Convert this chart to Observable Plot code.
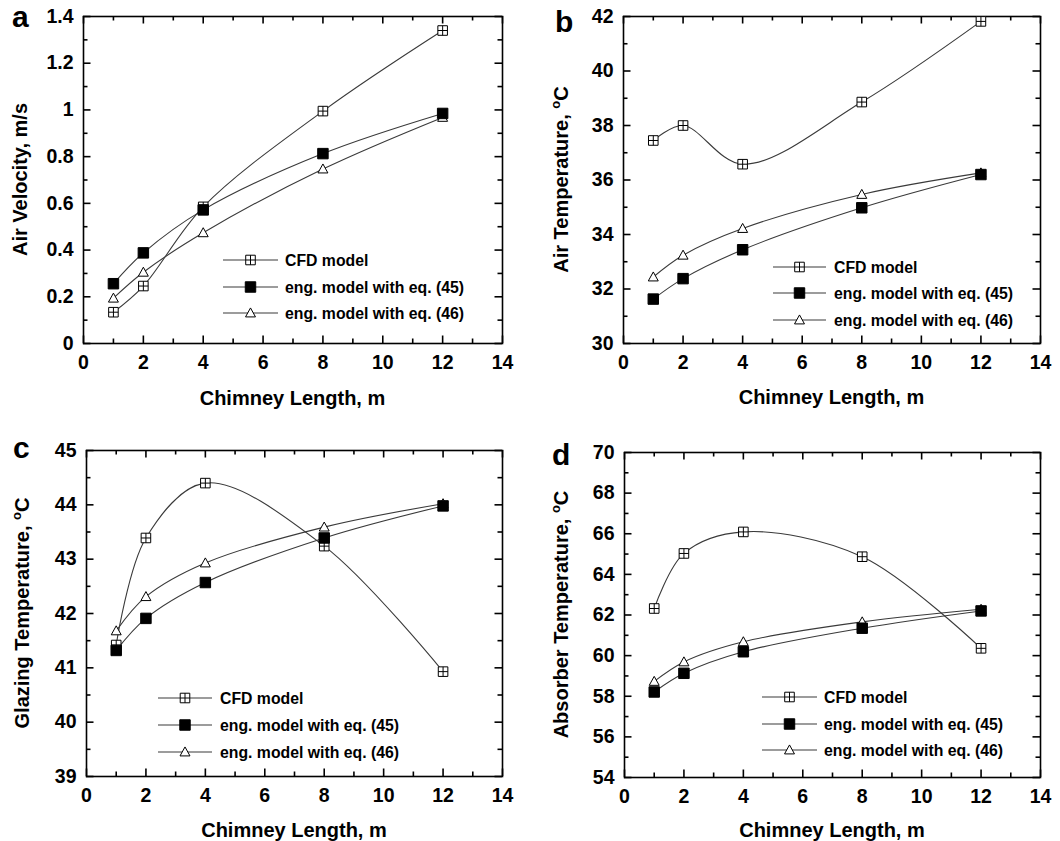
<!DOCTYPE html>
<html>
<head>
<meta charset="utf-8">
<script src="https://cdn.jsdelivr.net/npm/d3@7"></script>
<script src="https://cdn.jsdelivr.net/npm/@observablehq/plot@0.6"></script>
<style>
  html, body { margin: 0; padding: 0; background: #fff; }
  #root { position: relative; width: 1060px; height: 841px; overflow: hidden; font-family: "Liberation Sans", Arial, sans-serif; }
  .panel { position: absolute; }
</style>
</head>
<body>
<div id="root"></div>
<script>
// ---------------- data ----------------
const chimneyLength = [1, 2, 4, 8, 12];
const seriesNames = ["CFD model", "eng. model with eq. (45)", "eng. model with eq. (46)"];

// (a) Air velocity, m/s
const velocityCFD  = [0.134, 0.246, 0.585, 0.995, 1.34];
const velocityEq45 = [0.256, 0.388, 0.572, 0.813, 0.985];
const velocityEq46 = [0.194, 0.305, 0.474, 0.747, 0.968];

// (b) Air temperature, oC
const airTempCFD  = [37.45, 38.0, 36.58, 38.86, 41.82];
const airTempEq45 = [31.63, 32.38, 33.44, 34.98, 36.2];
const airTempEq46 = [32.44, 33.24, 34.22, 35.47, 36.26];

// (c) Glazing temperature, oC
const glazTempCFD  = [41.42, 43.39, 44.4, 43.24, 40.93];
const glazTempEq45 = [41.32, 41.91, 42.57, 43.39, 43.98];
const glazTempEq46 = [41.68, 42.31, 42.93, 43.59, 44.02];

// (d) Absorber temperature, oC
const absTempCFD  = [62.32, 65.03, 66.09, 64.87, 60.36];
const absTempEq45 = [58.21, 59.13, 60.19, 61.35, 62.2];
const absTempEq46 = [58.73, 59.69, 60.68, 61.66, 62.28];

// tick values
const xTicks = [0, 2, 4, 6, 8, 10, 12, 14];
const xMinorTicks = [1, 3, 5, 7, 9, 11, 13];
const velocityTicks = [0, 0.2, 0.4, 0.6, 0.8, 1, 1.2, 1.4];
const airTempTicks = [30, 32, 34, 36, 38, 40, 42];
const glazTempTicks = [39, 40, 41, 42, 43, 44, 45];
const absTempTicks = [54, 56, 58, 60, 62, 64, 66, 68, 70];

// ---------------- symbols ----------------
const squarePlus = {
  draw(ctx, size) {
    const s = Math.sqrt(size) / 2;
    ctx.moveTo(-s, -s); ctx.lineTo(s, -s); ctx.lineTo(s, s); ctx.lineTo(-s, s); ctx.closePath();
    ctx.moveTo(0, -s); ctx.lineTo(0, s);
    ctx.moveTo(-s, 0); ctx.lineTo(s, 0);
  }
};
const openTriangle = {
  draw(ctx, size) {
    const h = Math.sqrt(size) / 2;
    ctx.moveTo(0, -h * 1.1); ctx.lineTo(h * 1.08, h * 0.85); ctx.lineTo(-h * 1.08, h * 0.85); ctx.closePath();
  }
};
const filledSquare = {
  draw(ctx, size) {
    const s = Math.sqrt(size) / 2;
    ctx.moveTo(-s, -s); ctx.lineTo(s, -s); ctx.lineTo(s, s); ctx.lineTo(-s, s); ctx.closePath();
  }
};
const seriesStyle = [
  {symbol: squarePlus, fill: "#fff", r: 5.4},
  {symbol: filledSquare, fill: "#000", r: 5.9},
  {symbol: openTriangle, fill: "#fff", r: 5.2}
];
const drawOrder = [2, 0, 1];
const lineColor = "#3a3a3a";
const tickColor = "#000";

// ---------------- panels ----------------
const panels = [
  {letter: "a", left: 0, top: 0, width: 530, height: 420, mt: 16, mr: 28, mb: 77, ml: 83,
   yDomain: [0, 1.4], yTicks: velocityTicks, yTitle: ["Air Velocity, m/s"],
   series: [velocityCFD, velocityEq45, velocityEq46],
   legend: {x1: 223, x2: 278, tx: 285, ys: [260, 287, 313]},
   letterPos: [12, 27], xTitleY: 405, yTitleX: 27},
  {letter: "b", left: 530, top: 0, width: 530, height: 420, mt: 16, mr: 20, mb: 77, ml: 93,
   yDomain: [30, 42], yTicks: airTempTicks, yTitle: ["Air Temperature, ", "o", "C"],
   series: [airTempCFD, airTempEq45, airTempEq46],
   legend: {x1: 243, x2: 296, tx: 304, ys: [267, 293, 320]},
   letterPos: [25, 32], xTitleY: 404, yTitleX: 38},
  {letter: "c", left: 0, top: 420, width: 530, height: 421, mt: 30, mr: 28, mb: 65, ml: 86,
   yDomain: [39, 45], yTicks: glazTempTicks, yTitle: ["Glazing Temperature, ", "o", "C"],
   series: [glazTempCFD, glazTempEq45, glazTempEq46],
   legend: {x1: 158, x2: 212, tx: 220, ys: [278, 305, 332]},
   letterPos: [13, 38], xTitleY: 417, yTitleX: 29},
  {letter: "d", left: 530, top: 420, width: 530, height: 421, mt: 32, mr: 20, mb: 64, ml: 94,
   yDomain: [54, 70], yTicks: absTempTicks, yTitle: ["Absorber Temperature, ", "o", "C"],
   series: [absTempCFD, absTempEq45, absTempEq46],
   legend: {x1: 232, x2: 287, tx: 294, ys: [277, 304, 330]},
   letterPos: [22, 45], xTitleY: 417, yTitleX: 38}
];

const root = document.getElementById("root");
const FONT = "'Liberation Sans', Arial, Helvetica, sans-serif";
const fmt = d => String(+(+d).toFixed(2));

for (const p of panels) {
  const W = p.width - p.ml - p.mr;
  const H = p.height - p.mt - p.mb;
  const yStep = p.yTicks[1] - p.yTicks[0];
  const yMinor = p.yTicks.slice(0, -1).map(v => v + yStep / 2);
  const M = 7.5, m = 4.5;
  const tk = {stroke: tickColor, strokeWidth: 1.6};

  const marks = [
    // inward ticks on all four sides
    Plot.tickX(xTicks, {x: d => d, insetTop: H - M, ...tk}),
    Plot.tickX(xTicks, {x: d => d, insetBottom: H - M, ...tk}),
    Plot.tickX(xMinorTicks, {x: d => d, insetTop: H - m, ...tk}),
    Plot.tickX(xMinorTicks, {x: d => d, insetBottom: H - m, ...tk}),
    Plot.tickY(p.yTicks, {y: d => d, insetRight: W - M, ...tk}),
    Plot.tickY(p.yTicks, {y: d => d, insetLeft: W - M, ...tk}),
    Plot.tickY(yMinor, {y: d => d, insetRight: W - m, ...tk}),
    Plot.tickY(yMinor, {y: d => d, insetLeft: W - m, ...tk}),
    Plot.frame({stroke: "#000", strokeWidth: 1.6})
  ];
  p.series.forEach((s) => {
    const data = chimneyLength.map((x, i) => ({x, y: s[i]}));
    marks.push(Plot.line(data, {x: "x", y: "y", curve: "catmull-rom", stroke: lineColor, strokeWidth: 1.1}));
  });
  for (const k of drawOrder) {
    const data = chimneyLength.map((x, i) => ({x, y: p.series[k][i]}));
    const st = seriesStyle[k];
    marks.push(Plot.dot(data, {x: "x", y: "y", symbol: st.symbol, r: st.r, fill: st.fill, stroke: "#000", strokeWidth: 1}));
  }
  marks.push(
    Plot.axisX({anchor: "bottom", ticks: xTicks, tickSize: 0, tickPadding: 12, tickFormat: fmt, fontSize: 19.5, fontWeight: "bold", fill: "#000"}),
    Plot.axisY({anchor: "left", ticks: p.yTicks, tickSize: 0, tickPadding: 10, tickFormat: fmt, fontSize: 19.5, fontWeight: "bold", fill: "#000"})
  );

  const plot = Plot.plot({
    width: p.width, height: p.height,
    marginTop: p.mt, marginRight: p.mr, marginBottom: p.mb, marginLeft: p.ml,
    x: {domain: [0, 14], label: null},
    y: {domain: p.yDomain, label: null},
    style: {fontFamily: FONT, fontWeight: "bold", fontSize: "19.5px"},
    marks
  });

  const div = document.createElement("div");
  div.className = "panel";
  div.style.left = p.left + "px";
  div.style.top = p.top + "px";
  div.appendChild(plot);
  root.appendChild(div);

  const svg = d3.select(plot);
  const g = svg.append("g").attr("font-family", FONT).attr("font-weight", "bold").attr("fill", "#000").attr("text-anchor", "start");

  g.append("text").attr("x", p.letterPos[0]).attr("y", p.letterPos[1]).attr("font-size", 30).attr("text-anchor", "start").text(p.letter);

  g.append("text").attr("x", p.ml + W / 2).attr("y", p.xTitleY).attr("text-anchor", "middle")
    .attr("font-size", 20).text("Chimney Length, m");

  const yt = g.append("text").attr("text-anchor", "middle").attr("font-size", 20)
    .attr("transform", `translate(${p.yTitleX},${p.mt + H / 2}) rotate(-90)`);
  yt.append("tspan").text(p.yTitle[0]);
  if (p.yTitle.length > 1) {
    yt.append("tspan").attr("font-size", 13).attr("dy", -8).text(p.yTitle[1]);
    yt.append("tspan").attr("dy", 8).text(p.yTitle[2]);
  }

  const lg = svg.append("g").attr("text-anchor", "start");
  seriesNames.forEach((name, k) => {
    const y = p.legend.ys[k];
    const st = seriesStyle[k];
    lg.append("line").attr("x1", p.legend.x1).attr("x2", p.legend.x2).attr("y1", y).attr("y2", y)
      .attr("stroke", lineColor).attr("stroke-width", 1.1);
    const cx = (p.legend.x1 + p.legend.x2) / 2;
    lg.append("path").attr("transform", `translate(${cx},${y})`)
      .attr("d", d3.symbol(st.symbol, Math.PI * st.r * st.r)())
      .attr("fill", st.fill).attr("stroke", "#000").attr("stroke-width", 1);
    lg.append("text").attr("x", p.legend.tx).attr("y", y).attr("dy", "0.35em").attr("text-anchor", "start")
      .attr("font-family", FONT).attr("font-weight", "bold").attr("font-size", 15.8).attr("fill", "#000")
      .text(name);
  });
}
</script>
</body>
</html>
